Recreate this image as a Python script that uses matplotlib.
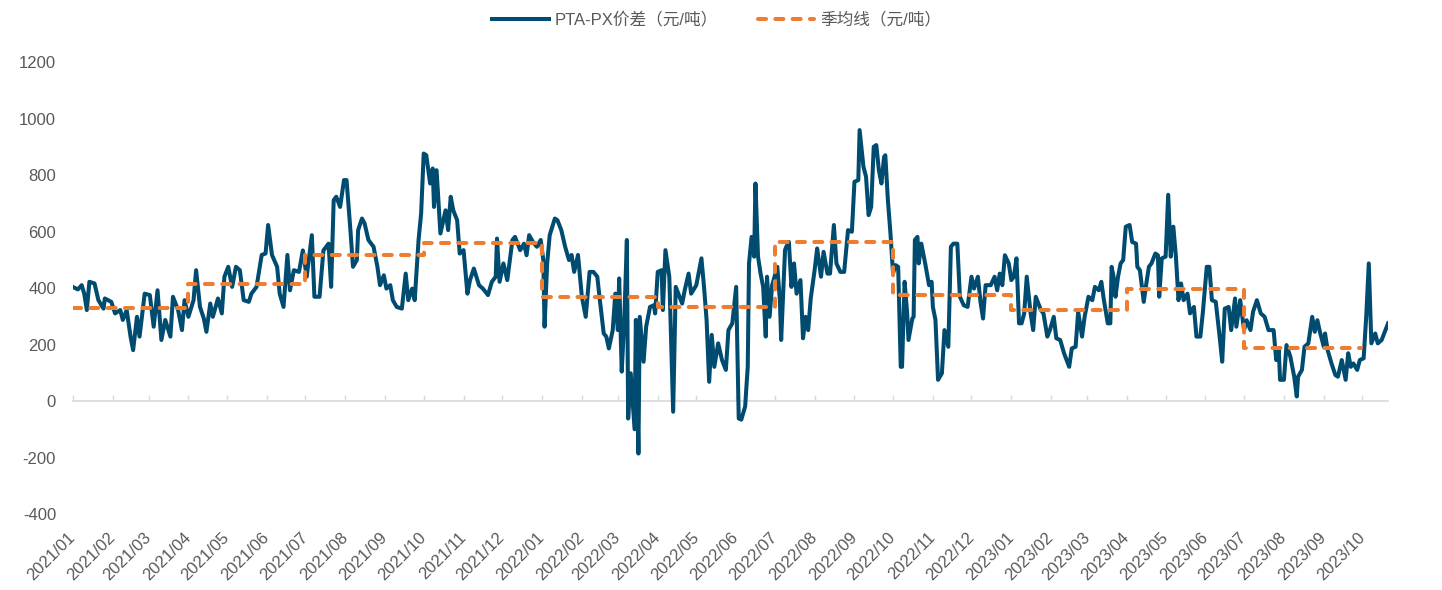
import matplotlib
matplotlib.use('Agg')
from matplotlib import pyplot as plt
import matplotlib.dates as mdates
import pandas as pd

plt.rcParams['font.family'] = ['Liberation Sans', 'Noto Sans CJK SC']
plt.rcParams['axes.unicode_minus'] = False

# PTA-PX spread (date, yuan/ton)
dates_2021 = ['2021-01-01', '2021-01-05', '2021-01-08', '2021-01-10', '2021-01-12', '2021-01-14', '2021-01-18',
              '2021-01-21', '2021-01-25', '2021-01-26', '2021-01-31', '2021-02-03', '2021-02-07', '2021-02-09',
              '2021-02-12', '2021-02-15', '2021-02-17', '2021-02-20', '2021-02-22', '2021-02-26', '2021-03-02',
              '2021-03-05', '2021-03-08', '2021-03-11', '2021-03-14', '2021-03-18', '2021-03-20', '2021-03-24',
              '2021-03-27', '2021-03-29', '2021-04-01', '2021-04-05', '2021-04-07', '2021-04-10', '2021-04-13',
              '2021-04-15', '2021-04-18', '2021-04-20', '2021-04-24', '2021-04-27', '2021-04-29', '2021-05-02',
              '2021-05-05', '2021-05-08', '2021-05-11', '2021-05-14', '2021-05-18', '2021-05-20', '2021-05-24',
              '2021-05-28', '2021-05-31', '2021-06-02', '2021-06-05', '2021-06-09', '2021-06-11', '2021-06-14',
              '2021-06-17', '2021-06-19', '2021-06-22', '2021-06-26', '2021-06-29', '2021-07-02', '2021-07-06',
              '2021-07-08', '2021-07-12', '2021-07-15', '2021-07-19', '2021-07-21', '2021-07-23', '2021-07-25',
              '2021-07-28', '2021-07-31', '2021-08-02', '2021-08-05', '2021-08-07', '2021-08-10', '2021-08-11',
              '2021-08-14', '2021-08-16', '2021-08-19', '2021-08-23', '2021-08-26', '2021-08-28', '2021-08-31',
              '2021-09-02', '2021-09-05', '2021-09-07', '2021-09-10', '2021-09-14', '2021-09-17', '2021-09-19',
              '2021-09-22', '2021-09-24', '2021-09-27', '2021-09-29', '2021-10-01', '2021-10-03', '2021-10-06',
              '2021-10-08', '2021-10-09', '2021-10-11', '2021-10-14', '2021-10-18', '2021-10-20', '2021-10-22',
              '2021-10-24', '2021-10-27', '2021-10-29', '2021-11-01', '2021-11-04', '2021-11-06', '2021-11-09',
              '2021-11-13', '2021-11-16', '2021-11-20', '2021-11-23', '2021-11-26', '2021-11-27', '2021-11-29',
              '2021-12-02', '2021-12-05', '2021-12-09', '2021-12-11', '2021-12-15', '2021-12-18', '2021-12-20',
              '2021-12-22', '2021-12-25', '2021-12-28', '2021-12-31']
vals_2021 = [404, 395, 410, 380, 322, 422, 416,
             357, 327, 363, 351, 310, 322, 287,
             322, 228, 180, 298, 228, 380, 375,
             263, 392, 216, 287, 228, 369, 322,
             251, 357, 298, 357, 463, 333, 292,
             245, 345, 298, 363, 310, 440, 475,
             404, 475, 463, 357, 351, 380, 404,
             517, 522, 623, 517, 475, 380, 333,
             517, 392, 463, 457, 533, 440, 587,
             369, 369, 533, 557, 404, 711, 723,
             687, 782, 782, 605, 475, 499, 605,
             646, 629, 570, 546, 475, 410, 445,
             398, 410, 357, 333, 327, 451, 357,
             398, 357, 570, 664, 876, 870, 770,
             823, 687, 817, 593, 675, 605, 723,
             675, 640, 522, 534, 380, 428, 469,
             410, 398, 375, 422, 440, 575, 422,
             487, 428, 570, 581, 534, 557, 516,
             587, 563, 546, 570]

dates_2022 = ['2022-01-02', '2022-01-03', '2022-01-05', '2022-01-07', '2022-01-11', '2022-01-13', '2022-01-16',
              '2022-01-19', '2022-01-22', '2022-01-24', '2022-01-26', '2022-01-29', '2022-02-01', '2022-02-04',
              '2022-02-07', '2022-02-10', '2022-02-13', '2022-02-15', '2022-02-18', '2022-02-20', '2022-02-22',
              '2022-02-25', '2022-02-27', '2022-03-01', '2022-03-02', '2022-03-04', '2022-03-06', '2022-03-08',
              '2022-03-09', '2022-03-11', '2022-03-14', '2022-03-15', '2022-03-17', '2022-03-18', '2022-03-21',
              '2022-03-23', '2022-03-26', '2022-03-29', '2022-03-30', '2022-04-01', '2022-04-04', '2022-04-05',
              '2022-04-07', '2022-04-10', '2022-04-13', '2022-04-15', '2022-04-17', '2022-04-20', '2022-04-22',
              '2022-04-25', '2022-04-27', '2022-05-01', '2022-05-05', '2022-05-07', '2022-05-09', '2022-05-11',
              '2022-05-13', '2022-05-15', '2022-05-18', '2022-05-21', '2022-05-24', '2022-05-26', '2022-05-29',
              '2022-06-01', '2022-06-03', '2022-06-05', '2022-06-08', '2022-06-10', '2022-06-11', '2022-06-13',
              '2022-06-15', '2022-06-16', '2022-06-18', '2022-06-20', '2022-06-22', '2022-06-24', '2022-06-25',
              '2022-06-27', '2022-06-29', '2022-07-03', '2022-07-05', '2022-07-06', '2022-07-09', '2022-07-10',
              '2022-07-12', '2022-07-14', '2022-07-16', '2022-07-18', '2022-07-21', '2022-07-23', '2022-07-25',
              '2022-07-27', '2022-07-29', '2022-08-01', '2022-08-03', '2022-08-06', '2022-08-08', '2022-08-11',
              '2022-08-13', '2022-08-16', '2022-08-18', '2022-08-21', '2022-08-24', '2022-08-27', '2022-08-30',
              '2022-09-01', '2022-09-04', '2022-09-05', '2022-09-08', '2022-09-10', '2022-09-12', '2022-09-14',
              '2022-09-16', '2022-09-18', '2022-09-20', '2022-09-22', '2022-09-24', '2022-09-25', '2022-09-27',
              '2022-09-29', '2022-10-01', '2022-10-03', '2022-10-05', '2022-10-07', '2022-10-08', '2022-10-10',
              '2022-10-12', '2022-10-13', '2022-10-16', '2022-10-17', '2022-10-18', '2022-10-20', '2022-10-21',
              '2022-10-23', '2022-10-26', '2022-10-29', '2022-10-31', '2022-11-01', '2022-11-03', '2022-11-05',
              '2022-11-08', '2022-11-10', '2022-11-13', '2022-11-15', '2022-11-17', '2022-11-20', '2022-11-22',
              '2022-11-25', '2022-11-28', '2022-12-01', '2022-12-03', '2022-12-06', '2022-12-08', '2022-12-10',
              '2022-12-12', '2022-12-16', '2022-12-19', '2022-12-21', '2022-12-23', '2022-12-25', '2022-12-27',
              '2022-12-30']
vals_2022 = [499, 263, 487, 587, 646, 640, 605,
             546, 499, 517, 457, 517, 369, 298,
             457, 457, 440, 357, 239, 228, 186,
             251, 380, 251, 434, 104, 287, 570,
             -62, 98, -100, 287, -186, 298, 139,
             263, 333, 339, 310, 457, 463, 322,
             534, 440, -38, 404, 380, 345, 392,
             451, 380, 410, 505, 404, 287, 68,
             234, 121, 204, 145, 110, 251, 275,
             404, -62, -66, -19, 121, 487, 581,
             511, 770, 511, 451, 404, 228, 440,
             298, 410, 475, 357, 216, 534, 546,
             563, 404, 487, 380, 428, 222, 298,
             251, 363, 463, 540, 440, 528, 451,
             451, 623, 487, 457, 457, 605, 599,
             776, 782, 959, 829, 794, 658, 687,
             900, 906, 817, 770, 864, 870, 711,
             593, 452, 481, 475, 121, 121, 422,
             310, 216, 292, 298, 570, 581, 487,
             557, 487, 410, 422, 333, 287, 75,
             98, 251, 192, 546, 557, 557, 369,
             339, 333, 440, 398, 440, 351, 292,
             410, 410, 440, 392, 451, 410, 516,
             487]

dates_2023 = ['2023-01-01', '2023-01-03', '2023-01-05', '2023-01-07', '2023-01-09', '2023-01-11', '2023-01-13',
              '2023-01-16', '2023-01-18', '2023-01-20', '2023-01-24', '2023-01-26', '2023-01-29', '2023-01-31',
              '2023-02-03', '2023-02-05', '2023-02-08', '2023-02-11', '2023-02-15', '2023-02-17', '2023-02-20',
              '2023-02-22', '2023-02-25', '2023-02-27', '2023-03-02', '2023-03-05', '2023-03-07', '2023-03-10',
              '2023-03-12', '2023-03-14', '2023-03-17', '2023-03-19', '2023-03-20', '2023-03-22', '2023-03-23',
              '2023-03-25', '2023-03-27', '2023-03-29', '2023-03-31', '2023-04-03', '2023-04-05', '2023-04-08',
              '2023-04-09', '2023-04-11', '2023-04-14', '2023-04-16', '2023-04-18', '2023-04-20', '2023-04-23',
              '2023-04-25', '2023-04-26', '2023-04-28', '2023-05-01', '2023-05-03', '2023-05-05', '2023-05-07',
              '2023-05-09', '2023-05-11', '2023-05-13', '2023-05-15', '2023-05-18', '2023-05-20', '2023-05-23',
              '2023-05-25', '2023-05-28', '2023-05-30', '2023-06-02', '2023-06-04', '2023-06-06', '2023-06-09',
              '2023-06-12', '2023-06-14', '2023-06-16', '2023-06-19', '2023-06-21', '2023-06-24', '2023-06-25',
              '2023-06-28', '2023-07-01', '2023-07-03', '2023-07-06', '2023-07-08', '2023-07-11', '2023-07-14',
              '2023-07-17', '2023-07-20', '2023-07-24', '2023-07-26', '2023-07-28', '2023-07-29', '2023-08-01',
              '2023-08-03', '2023-08-06', '2023-08-09', '2023-08-11', '2023-08-12', '2023-08-15', '2023-08-17',
              '2023-08-20', '2023-08-23', '2023-08-25', '2023-08-27', '2023-08-29', '2023-09-01', '2023-09-02',
              '2023-09-04', '2023-09-07', '2023-09-10', '2023-09-12', '2023-09-15', '2023-09-18', '2023-09-20',
              '2023-09-22', '2023-09-24', '2023-09-27', '2023-09-29', '2023-10-02', '2023-10-04', '2023-10-06',
              '2023-10-08', '2023-10-11', '2023-10-13', '2023-10-16', '2023-10-19', '2023-10-21']
vals_2023 = [428, 440, 505, 275, 275, 310, 440,
             310, 251, 369, 322, 310, 228, 251,
             298, 222, 216, 169, 121, 186, 192,
             316, 228, 298, 369, 357, 404, 392,
             422, 357, 275, 275, 475, 428, 369,
             440, 487, 499, 617, 623, 563, 557,
             475, 463, 351, 416, 475, 487, 522,
             516, 369, 505, 511, 730, 511, 617,
             511, 357, 416, 357, 380, 310, 333,
             228, 228, 316, 475, 475, 357, 351,
             228, 139, 327, 333, 251, 363, 263,
             357, 251, 286, 251, 316, 357, 310,
             298, 251, 251, 145, 180, 75, 75,
             198, 157, 86, 16, 86, 110, 192,
             204, 298, 245, 286, 245, 192, 239,
             180, 133, 92, 86, 145, 75, 169,
             121, 133, 110, 145, 151, 298, 487,
             204, 239, 204, 216, 251, 275]

# quarterly average (start of quarter, value); last entry closes the final step
quarter_starts = ['2021-01-01', '2021-04-01', '2021-07-01', '2021-10-01', '2022-01-01', '2022-04-01',
                  '2022-07-01', '2022-10-01', '2023-01-01', '2023-04-01', '2023-07-01', '2023-09-30']
quarter_avg = [328, 413, 516, 560, 368, 333, 563, 375, 321, 398, 187, 187]

spread = pd.Series(vals_2021 + vals_2022 + vals_2023,
                   index=pd.to_datetime(dates_2021 + dates_2022 + dates_2023))
qavg = pd.Series(quarter_avg, index=pd.to_datetime(quarter_starts))

blue = '#004B70'
orange = '#ED7D31'
grey_text = '#595959'

fig = plt.figure(figsize=(14.42, 5.9), dpi=100)
ax = fig.add_axes([0.0504, 0.1288, 0.9122, 0.7661])

ax.plot(spread.index, spread.values, color=blue, lw=2.9, solid_joinstyle='round',
        label='PTA-PX价差（元/吨）')
ax.plot(qavg.index, qavg.values, color=orange, lw=2.9, drawstyle='steps-post',
        dashes=(2.0, 2.3), dash_capstyle='round', label='季均线（元/吨）')

ax.set_ylim(-400, 1200)
ax.set_yticks(range(-400, 1201, 200))
ax.set_xlim(pd.Timestamp('2021-01-01'), spread.index[-1])

for s in ax.spines.values():
    s.set_visible(False)

months = mdates.MonthLocator()
ax.xaxis.set_major_locator(months)
ax.xaxis.set_major_formatter(mdates.DateFormatter('%Y/%m'))
ax.tick_params(axis='x', length=0, pad=15, labelsize=12, labelcolor=grey_text)
ax.tick_params(axis='y', length=0, pad=12, labelsize=12, labelcolor=grey_text)
for lbl in ax.get_xticklabels():
    lbl.set_rotation(45)
    lbl.set_ha('right')
    lbl.set_va('center')
    lbl.set_rotation_mode('anchor')

# zero line with month ticks pointing up
zero = ax.secondary_xaxis(0.25)
zero.xaxis.set_major_locator(mdates.MonthLocator())
zero.tick_params(direction='in', length=4, width=1, color='#D9D9D9', labelbottom=False)
zero.spines['bottom'].set_color('#D9D9D9')
zero.spines['bottom'].set_linewidth(1.2)

fig.legend(loc='center', bbox_to_anchor=(0.497, 0.967), ncol=2, frameon=False,
           fontsize=12, labelcolor=grey_text, handlelength=3.4, handletextpad=0.35,
           columnspacing=2.4)

plt.savefig('out.png', dpi=100)
